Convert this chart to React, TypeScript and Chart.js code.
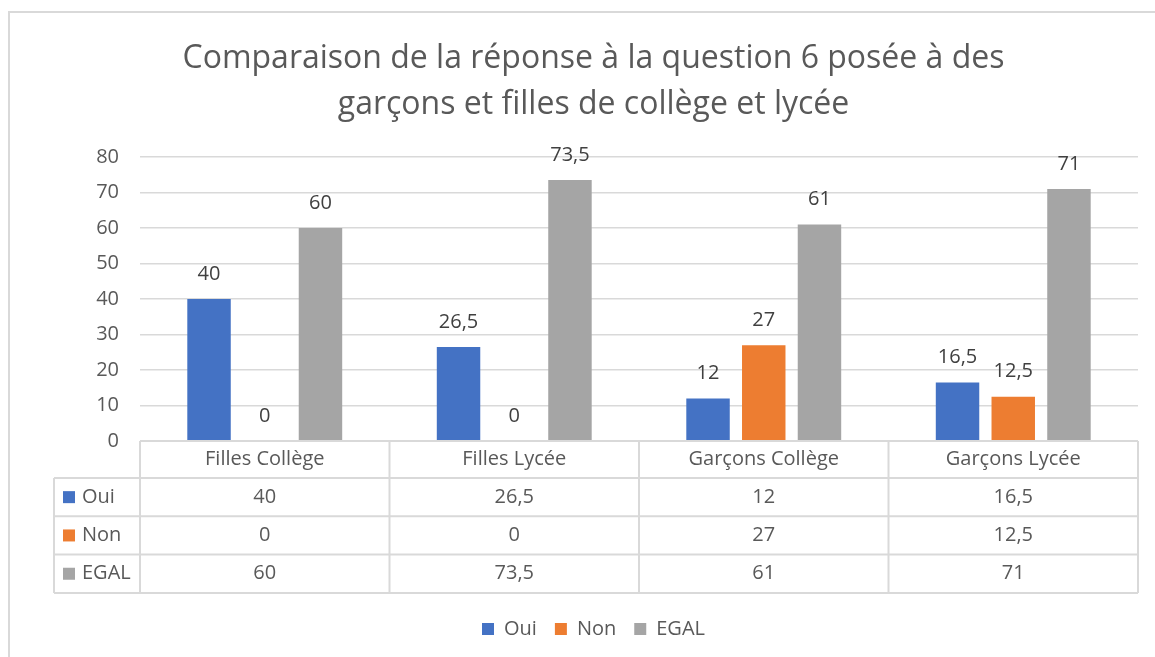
import React, { useEffect, useRef } from "react";
import { Chart, registerables } from "chart.js";

Chart.register(...registerables);

const categories = ["Filles Collège", "Filles Lycée", "Garçons Collège", "Garçons Lycée"];
const seriesNames = ["Oui", "Non", "EGAL"];
const ouiValues = [40, 26.5, 12, 16.5];
const nonValues = [0, 0, 27, 12.5];
const egalValues = [60, 73.5, 61, 71];
const seriesColors = ["#4472C4", "#ED7D31", "#A5A5A5"];
const titleLines = [
  "Comparaison de la réponse à la question 6 posée à des",
  "garçons et filles de collège et lycée",
];
const yMin = 0;
const yMax = 80;
const yStep = 10;

const FONT = "'Open Sans', sans-serif";
const TEXT = "#595959";
const LINE = "#d9d9d9";
const FS = 20;

const fmt = (v: number) => String(v).replace(".", ",");

const framePlugin = {
  id: "frame",
  beforeDraw(chart: any) {
    const ctx = chart.ctx;
    ctx.save();
    ctx.fillStyle = "#ffffff";
    ctx.fillRect(0, 0, chart.width, chart.height);
    ctx.strokeStyle = LINE;
    ctx.lineWidth = 2;
    ctx.beginPath();
    ctx.moveTo(9, chart.height);
    ctx.lineTo(9, 12);
    ctx.lineTo(chart.width, 12);
    ctx.stroke();
    ctx.restore();
  },
};

const labelPlugin = {
  id: "barLabels",
  afterDatasetsDraw(chart: any) {
    const ctx = chart.ctx;
    ctx.save();
    ctx.font = `${FS}px ${FONT}`;
    ctx.fillStyle = "#404040";
    ctx.textAlign = "center";
    ctx.textBaseline = "middle";
    chart.data.datasets.forEach((ds: any, di: number) => {
      const meta = chart.getDatasetMeta(di);
      meta.data.forEach((el: any, i: number) => {
        ctx.fillText(fmt(ds.data[i]), el.x, el.y - 25);
      });
    });
    ctx.restore();
  },
};

const tablePlugin = {
  id: "dataTable",
  afterDraw(chart: any) {
    const ctx = chart.ctx;
    const xs = chart.scales.x;
    const area = chart.chartArea;
    const n = categories.length;
    const colW = (area.right - area.left) / n;
    const top = area.bottom;
    const headerH = 37;
    const rowH = 38.3;
    const tableLeft = 54;
    const bottom = top + headerH + rowH * seriesNames.length;
    ctx.save();
    ctx.strokeStyle = LINE;
    ctx.lineWidth = 2;
    ctx.beginPath();
    ctx.moveTo(area.left, top);
    ctx.lineTo(area.right, top);
    for (let r = 0; r <= seriesNames.length; r++) {
      const y = top + headerH + r * rowH;
      ctx.moveTo(tableLeft, y);
      ctx.lineTo(area.right, y);
    }
    for (let i = 0; i <= n; i++) {
      const x = i < n ? xs.getPixelForValue(i) - colW / 2 : xs.getPixelForValue(n - 1) + colW / 2;
      ctx.moveTo(x, top);
      ctx.lineTo(x, bottom);
    }
    ctx.moveTo(tableLeft, top + headerH);
    ctx.lineTo(tableLeft, bottom);
    ctx.stroke();

    ctx.font = `${FS}px ${FONT}`;
    ctx.fillStyle = TEXT;
    ctx.textAlign = "center";
    ctx.textBaseline = "middle";
    categories.forEach((c, i) => {
      ctx.fillText(c, xs.getPixelForValue(i), top + headerH / 2);
    });
    chart.data.datasets.forEach((ds: any, di: number) => {
      const cy = top + headerH + rowH * di + rowH / 2;
      ds.data.forEach((v: number, i: number) => {
        ctx.textAlign = "center";
        ctx.fillText(fmt(v), xs.getPixelForValue(i), cy);
      });
      ctx.fillStyle = ds.backgroundColor;
      ctx.fillRect(63, cy - 6, 12, 12);
      ctx.fillStyle = TEXT;
      ctx.textAlign = "left";
      ctx.fillText(ds.label, 82, cy);
    });
    ctx.restore();
  },
};

export default function App() {
  const ref = useRef<HTMLCanvasElement | null>(null);
  useEffect(() => {
    if (!ref.current) return;
    const seriesValues = [ouiValues, nonValues, egalValues];
    const chart = new Chart(ref.current, {
      type: "bar",
      data: {
        labels: categories,
        datasets: seriesNames.map((name, i) => ({
          label: name,
          data: seriesValues[i],
          backgroundColor: seriesColors[i],
          borderWidth: 0,
          categoryPercentage: 0.67,
          barPercentage: 0.78,
        })),
      },
      options: {
        animation: false,
        responsive: false,
        maintainAspectRatio: false,
        layout: { padding: { left: 32, right: 0, top: 0, bottom: 8 } },
        plugins: {
          tooltip: { enabled: false },
          title: {
            display: true,
            text: titleLines,
            color: TEXT,
            font: { family: FONT, size: 32, weight: "normal", lineHeight: 1.4375 },
            padding: { top: 36, bottom: 29 },
          },
          legend: {
            position: "bottom",
            labels: {
              color: TEXT,
              font: { family: FONT, size: FS },
              boxWidth: 12,
              boxHeight: 12,
              padding: 18,
            },
          },
        },
        scales: {
          x: {
            type: "category",
            display: true,
            grid: { display: false },
            border: { display: false },
            ticks: { display: false },
            afterFit: (s: any) => {
              s.height = 160;
            },
          },
          y: {
            type: "linear",
            min: yMin,
            max: yMax,
            position: "left",
            grid: { color: LINE, lineWidth: 1.5, drawTicks: false },
            border: { display: false },
            ticks: {
              stepSize: yStep,
              padding: 21,
              color: TEXT,
              font: { family: FONT, size: FS },
              callback: (v: any) => fmt(Number(v)),
            },
            afterFit: (s: any) => {
              s.width = 108;
            },
          },
          y2: {
            type: "linear",
            position: "right",
            display: true,
            grid: { display: false },
            border: { display: false },
            ticks: { display: false },
            afterFit: (s: any) => {
              s.width = 17;
            },
          },
        },
      },
      plugins: [framePlugin, labelPlugin, tablePlugin],
    });
    return () => chart.destroy();
  }, []);
  return (
    <div style={{ position: "fixed", left: 0, top: 0, width: 1155, height: 657 }}>
      <canvas ref={ref} width={1155} height={657} style={{ display: "block" }} />
    </div>
  );
}
